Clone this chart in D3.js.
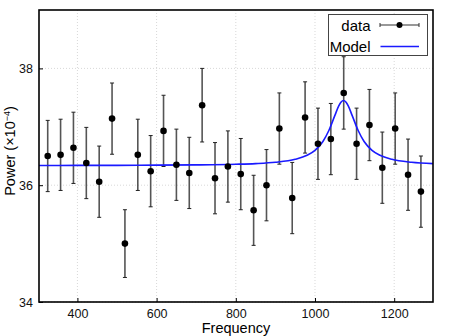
<!DOCTYPE html>
<html>
<head>
<meta charset="utf-8">
<script src="https://cdn.jsdelivr.net/npm/d3@7"></script>
<style>
  body { margin: 0; background: #fff; }
  svg { font-family: "Liberation Sans", Arial, sans-serif; }
</style>
</head>
<body>
<div id="chart"></div>
<script>
const width = 449;
const height = 336;
const margin = {top: 10, right: 16, bottom: 34, left: 39};

// binned frequencies and measured power (x10^-4)
const freqs = [325, 357.5, 390, 422.5, 455, 487.5, 520, 552.5, 585, 617.5,
               650, 682.5, 715, 747.5, 780, 812.5, 845, 877.5, 910, 942.5,
               975, 1007.5, 1040, 1072.5, 1105, 1137.5, 1170, 1202.5, 1235, 1267.5];
const power = [36.50, 36.52, 36.64, 36.38, 36.06, 37.14, 35.00, 36.52, 36.24, 36.93,
               36.35, 36.21, 37.37, 36.12, 36.32, 36.19, 35.57, 36.00, 36.97, 35.78,
               37.16, 36.71, 36.79, 37.58, 36.71, 37.03, 36.30, 36.97, 36.18, 35.89];
const errors = [0.61, 0.61, 0.61, 0.61, 0.61, 0.61, 0.58, 0.61, 0.61, 0.61,
                0.61, 0.61, 0.63, 0.61, 0.61, 0.61, 0.60, 0.61, 0.61, 0.61,
                0.61, 0.61, 0.61, 0.62, 0.61, 0.61, 0.61, 0.61, 0.61, 0.61];

// model curve
const modelFreqs = [303, 400, 500, 600, 700, 800, 850, 900, 950, 980, 1000, 1020, 1035,
                    1050, 1060, 1066, 1072, 1078, 1084, 1094, 1109, 1124, 1144, 1164,
                    1194, 1244, 1298];
const modelPower = [36.338, 36.339, 36.340, 36.343, 36.348, 36.359, 36.370, 36.392, 36.443,
                    36.512, 36.598, 36.749, 36.936, 37.191, 37.358, 37.425, 37.450, 37.425,
                    37.358, 37.191, 36.936, 36.749, 36.598, 36.512, 36.443, 36.392, 36.369];

const xTicks = [400, 600, 800, 1000, 1200];
const yTicks = [34, 36, 38];

const x = d3.scaleLinear().domain([303, 1298]).range([margin.left, width - margin.right]);
const y = d3.scaleLinear().domain([34, 39]).range([height - margin.bottom, margin.top]);

const svg = d3.select("#chart").append("svg")
  .attr("width", width)
  .attr("height", height);

// grid
svg.append("g")
  .selectAll("line")
  .data(xTicks)
  .join("line")
  .attr("x1", d => x(d)).attr("x2", d => x(d))
  .attr("y1", margin.top).attr("y2", height - margin.bottom)
  .attr("stroke", "#d8d8d8")
  .attr("stroke-dasharray", "1,2");
svg.append("g")
  .selectAll("line")
  .data(yTicks)
  .join("line")
  .attr("x1", margin.left).attr("x2", width - margin.right)
  .attr("y1", d => y(d)).attr("y2", d => y(d))
  .attr("stroke", "#d8d8d8")
  .attr("stroke-dasharray", "1,2");

// axes with inward ticks
const xAxis = d3.axisBottom(x).tickValues(xTicks).tickFormat(d3.format("d"))
  .tickSizeInner(-4).tickSizeOuter(0).tickPadding(7);
const yAxis = d3.axisLeft(y).tickValues(yTicks).tickFormat(d3.format("d"))
  .tickSizeInner(-4).tickSizeOuter(0).tickPadding(6);

svg.append("g")
  .attr("transform", `translate(0,${height - margin.bottom})`)
  .call(xAxis)
  .call(g => g.select(".domain").remove())
  .call(g => g.selectAll("text").attr("font-size", 12.5).attr("fill", "#111").attr("font-family", "Liberation Sans, Arial, sans-serif"));

svg.append("g")
  .attr("transform", `translate(${margin.left},0)`)
  .call(yAxis)
  .call(g => g.select(".domain").remove())
  .call(g => g.selectAll("text").attr("font-size", 12.5).attr("fill", "#111").attr("font-family", "Liberation Sans, Arial, sans-serif"));

// error bars
const bars = svg.append("g");
bars.selectAll("line.err")
  .data(freqs)
  .join("line")
  .attr("class", "err")
  .attr("x1", d => x(d)).attr("x2", d => x(d))
  .attr("y1", (d, i) => y(power[i] - errors[i]))
  .attr("y2", (d, i) => y(power[i] + errors[i]))
  .attr("stroke", "#555")
  .attr("stroke-width", 1.6);
bars.selectAll("line.capTop")
  .data(freqs)
  .join("line")
  .attr("class", "capTop")
  .attr("x1", d => x(d) - 2).attr("x2", d => x(d) + 2)
  .attr("y1", (d, i) => y(power[i] + errors[i]))
  .attr("y2", (d, i) => y(power[i] + errors[i]))
  .attr("stroke", "#222");
bars.selectAll("line.capBot")
  .data(freqs)
  .join("line")
  .attr("class", "capBot")
  .attr("x1", d => x(d) - 2).attr("x2", d => x(d) + 2)
  .attr("y1", (d, i) => y(power[i] - errors[i]))
  .attr("y2", (d, i) => y(power[i] - errors[i]))
  .attr("stroke", "#222");

// model
const line = d3.line()
  .x(d => x(d[0]))
  .y(d => y(d[1]))
  .curve(d3.curveMonotoneX);

svg.append("path")
  .datum(d3.zip(modelFreqs, modelPower))
  .attr("d", line)
  .attr("fill", "none")
  .attr("stroke", "#1a1aff")
  .attr("stroke-width", 1.6);

// points
svg.append("g")
  .selectAll("circle")
  .data(freqs)
  .join("circle")
  .attr("cx", d => x(d))
  .attr("cy", (d, i) => y(power[i]))
  .attr("r", 3.3)
  .attr("fill", "#000");

// frame
svg.append("rect")
  .attr("x", margin.left)
  .attr("y", margin.top)
  .attr("width", width - margin.left - margin.right)
  .attr("height", height - margin.top - margin.bottom)
  .attr("fill", "none")
  .attr("stroke", "#000")
  .attr("stroke-width", 1.6);

// axis titles
svg.append("text")
  .attr("x", (margin.left + width - margin.right) / 2)
  .attr("y", 333)
  .attr("text-anchor", "middle")
  .attr("font-size", 14.5)
  .text("Frequency");

svg.append("text")
  .attr("transform", "translate(15,151) rotate(-90)")
  .attr("text-anchor", "middle")
  .attr("font-size", 14.5)
  .html('Power (×10<tspan dy="-5" font-size="9">−4</tspan><tspan dy="5">)</tspan>');

// legend
const legend = svg.append("g");
legend.append("rect")
  .attr("x", 328.5).attr("y", 14.5)
  .attr("width", 99).attr("height", 41)
  .attr("fill", "#fff")
  .attr("stroke", "#444")
  .attr("stroke-width", 1);

legend.append("text")
  .attr("x", 370.5).attr("y", 30.5)
  .attr("text-anchor", "end")
  .attr("font-size", 15)
  .text("data");
legend.append("line")
  .attr("x1", 380).attr("x2", 419).attr("y1", 25).attr("y2", 25)
  .attr("stroke", "#333").attr("stroke-width", 1.2);
legend.append("line")
  .attr("x1", 380).attr("x2", 380).attr("y1", 23).attr("y2", 27)
  .attr("stroke", "#333");
legend.append("line")
  .attr("x1", 419).attr("x2", 419).attr("y1", 23).attr("y2", 27)
  .attr("stroke", "#333");
legend.append("circle")
  .attr("cx", 399.5).attr("cy", 25).attr("r", 3).attr("fill", "#000");

legend.append("text")
  .attr("x", 370.5).attr("y", 52)
  .attr("text-anchor", "end")
  .attr("font-size", 15)
  .text("Model");
legend.append("line")
  .attr("x1", 380.5).attr("x2", 419).attr("y1", 46.5).attr("y2", 46.5)
  .attr("stroke", "#1a1aff").attr("stroke-width", 1.6);
</script>
</body>
</html>
